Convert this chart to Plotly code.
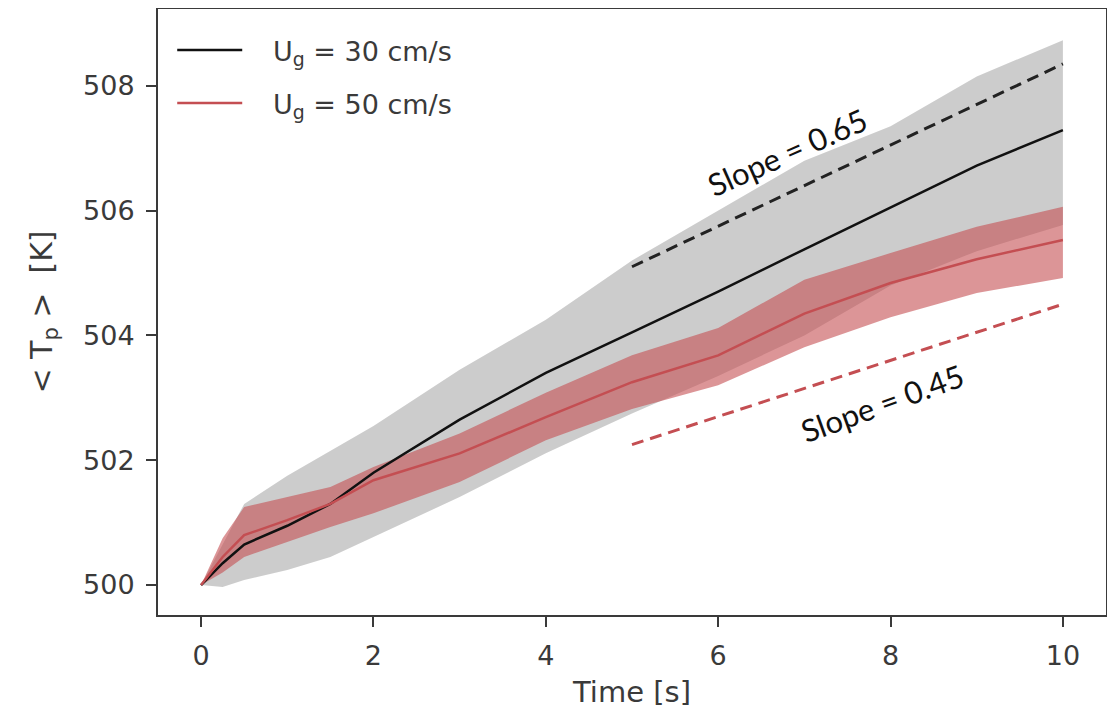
import plotly.graph_objects as go

# ---- data ----
time_s = [0, 0.25, 0.5, 1, 1.5, 2, 3, 4, 5, 6, 7, 8, 9, 10]

ug30_mean = [500.0, 500.35, 500.65, 500.95, 501.3, 501.8, 502.65, 503.4, 504.05, 504.7, 505.38, 506.05, 506.72, 507.29]
ug30_upper = [500.0, 500.65, 501.3, 501.75, 502.15, 502.55, 503.45, 504.25, 505.2, 506.0, 506.8, 507.35, 508.15, 508.73]
ug30_lower = [500.0, 499.97, 500.08, 500.24, 500.45, 500.77, 501.41, 502.11, 502.75, 503.35, 504.0, 504.8, 505.35, 505.77]

ug50_mean = [500.0, 500.45, 500.8, 501.04, 501.3, 501.68, 502.11, 502.69, 503.25, 503.68, 504.35, 504.84, 505.22, 505.53]
ug50_upper = [500.0, 500.75, 501.25, 501.41, 501.57, 501.89, 502.43, 503.08, 503.68, 504.12, 504.89, 505.32, 505.74, 506.06]
ug50_lower = [500.0, 500.2, 500.45, 500.69, 500.93, 501.15, 501.65, 502.32, 502.82, 503.2, 503.81, 504.29, 504.68, 504.92]

slope_x = [5, 10]
slope30_y = [505.1, 508.35]
slope50_y = [502.25, 504.5]

x_ticks = [0, 2, 4, 6, 8, 10]
y_ticks = [500, 502, 504, 506, 508]

BLACK = "#111111"
RED = "#C44E52"
AX = "#3a3a3a"
NB = "\u00a0"

fig = go.Figure()

# grey band
fig.add_trace(go.Scatter(x=time_s, y=ug30_lower, mode="lines", line=dict(width=0),
                         showlegend=False, hoverinfo="skip"))
fig.add_trace(go.Scatter(x=time_s, y=ug30_upper, mode="lines", line=dict(width=0),
                         fill="tonexty", fillcolor="rgba(0,0,0,0.2)",
                         showlegend=False, hoverinfo="skip"))
# red band
fig.add_trace(go.Scatter(x=time_s, y=ug50_lower, mode="lines", line=dict(width=0),
                         showlegend=False, hoverinfo="skip"))
fig.add_trace(go.Scatter(x=time_s, y=ug50_upper, mode="lines", line=dict(width=0),
                         fill="tonexty", fillcolor="rgba(196,78,82,0.6)",
                         showlegend=False, hoverinfo="skip"))

# mean lines
fig.add_trace(go.Scatter(x=time_s, y=ug30_mean, mode="lines",
                         line=dict(color=BLACK, width=2.5), legendgroup="a",
                         name=NB * 3 + "U<sub>g</sub> = 30 cm/s"))
fig.add_trace(go.Scatter(x=time_s, y=ug50_mean, mode="lines",
                         line=dict(color=RED, width=2.5), legendgroup="b",
                         name=NB * 3 + "U<sub>g</sub> = 50 cm/s"))

# slope guide lines
fig.add_trace(go.Scatter(x=slope_x, y=slope30_y, mode="lines",
                         line=dict(color="#222222", width=3, dash="12px,7px"),
                         showlegend=False, hoverinfo="skip"))
fig.add_trace(go.Scatter(x=slope_x, y=slope50_y, mode="lines",
                         line=dict(color=RED, width=3, dash="12px,7px"),
                         showlegend=False, hoverinfo="skip"))

fig.add_annotation(x=6.8, y=506.94, text="Slope = 0.65", showarrow=False,
                   textangle=-24, font=dict(family="Lato", size=31, color="#111111"))
fig.add_annotation(x=7.9, y=502.92, text="Slope = 0.45", showarrow=False,
                   textangle=-20, font=dict(family="Lato", size=31, color="#111111"))

axis_common = dict(showline=True, linecolor=AX, linewidth=2, mirror=True,
                   ticks="outside", ticklen=10, tickwidth=2, tickcolor=AX,
                   showgrid=False, zeroline=False, automargin=False,
                   ticklabelstandoff=6,
                   tickfont=dict(family="DejaVu Sans", size=27, color=AX))

fig.update_xaxes(range=[-0.5, 10.5], tickvals=x_ticks,
                 title=dict(text="Time [s]", font=dict(family="DejaVu Sans", size=29, color=AX),
                            standoff=12),
                 **axis_common)
fig.update_yaxes(range=[499.52, 509.23], tickvals=y_ticks,
                 title=dict(text="< T<sub>p</sub> >  [K]",
                            font=dict(family="DejaVu Sans", size=30, color=AX), standoff=22),
                 **axis_common)

# page body adds an 8px offset, so the figure is sized/margined to compensate
fig.update_layout(
    width=1107, height=701,
    margin=dict(l=150, r=9, t=1, b=94),
    paper_bgcolor="white", plot_bgcolor="white",
    legend=dict(x=0.015, y=0.972, xanchor="left", yanchor="top",
                font=dict(family="DejaVu Sans", size=27, color=AX),
                bgcolor="rgba(255,255,255,0)", borderwidth=0,
                traceorder="grouped", itemwidth=65, tracegroupgap=15),
    showlegend=True,
)

fig.write_html("out.html")
